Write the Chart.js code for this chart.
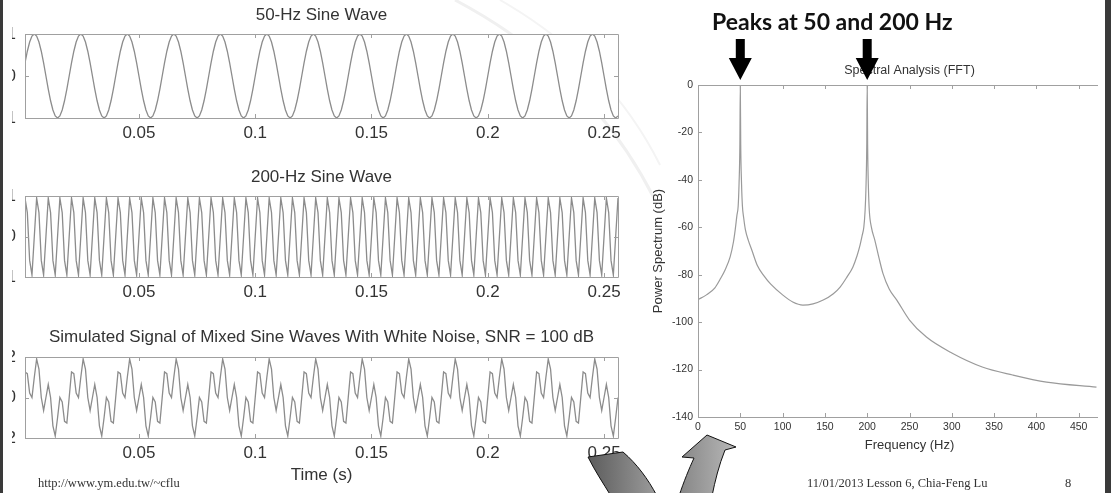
<!DOCTYPE html>
<html>
<head>
<meta charset="utf-8">
<script src="https://cdn.jsdelivr.net/npm/chart.js@4.4.1/dist/chart.umd.min.js"></script>
<style>
  html, body { margin: 0; padding: 0; background: #fff; }
  #slide { position: relative; width: 1111px; height: 493px; overflow: hidden; background: #fff; }
  #bg { position: absolute; left: 0; top: 0; }
  .edge { position: absolute; top: 0; height: 493px; background: #3a3a3a; }
  #waves { position: absolute; left: 12px; top: 0; width: 620px; height: 493px; overflow: hidden; }
  #waves canvas { position: absolute; left: -30px; }
  #fftBox { position: absolute; left: 640px; top: 0; width: 458px; height: 493px; overflow: hidden; }
  #fftBox canvas { position: absolute; left: 0; top: 0; }
  .foot { position: absolute; font-family: "Liberation Serif", "Times New Roman", serif; font-size: 12.5px; color: #333; white-space: nowrap; line-height: 14px; }
  #peaks { position: absolute; left: 712px; top: 9.6px; font-family: Lato, sans-serif; font-weight: bold; font-size: 23px; line-height: 23px; color: #111; white-space: nowrap; transform-origin: left top; }
  #deco { position: absolute; left: 0; top: 0; pointer-events: none; }
</style>
</head>
<body>
<div id="slide">
  <!-- faint template swooshes -->
  <svg id="bg" width="1111" height="493">
    <path d="M455,0 C540,45 610,110 655,200" fill="none" stroke="#f0f0f0" stroke-width="3"/>
    <path d="M500,0 C570,40 625,95 660,165" fill="none" stroke="#f4f4f4" stroke-width="2"/>
  </svg>
  <div id="waves">
    <canvas id="wave50" width="650" height="148" style="top:0px"></canvas>
    <canvas id="wave200" width="650" height="157" style="top:150px"></canvas>
    <canvas id="waveMix" width="650" height="179" style="top:310px"></canvas>
  </div>
  <div id="fftBox">
    <canvas id="fft" width="486" height="455"></canvas>
  </div>
  <div id="peaks">Peaks at 50 and 200 Hz</div>
  <div class="foot" style="left:38px; top:476px;">http://www.ym.edu.tw/~cflu</div>
  <div class="foot" style="left:807px; top:476px;">11/01/2013 Lesson 6, Chia-Feng Lu</div>
  <div class="foot" style="left:1065px; top:476px;">8</div>
  <svg id="deco" width="1111" height="493">
    <defs>
      <linearGradient id="gDark" x1="0" y1="0" x2="1" y2="0">
        <stop offset="0" stop-color="#5c5c5c"/>
        <stop offset="1" stop-color="#9c9c9c"/>
      </linearGradient>
      <linearGradient id="gLight" x1="0" y1="0" x2="1" y2="0">
        <stop offset="0" stop-color="#868686"/>
        <stop offset="1" stop-color="#b8b8b8"/>
      </linearGradient>
    </defs>
    <path d="M588,457 C595,471 603,483 611,496 L657,496 C648,479 637,464 623,452 Z" fill="url(#gDark)" stroke="#111" stroke-width="1"/>
    <path d="M679,496 C684,481 689,469 694,458 L682,457 L707,435 L736,447 L725,450 C719,465 715,481 712,496 Z" fill="url(#gLight)" stroke="#111" stroke-width="1"/>
  </svg>
  <div class="edge" style="left:0; width:3px;"></div>
  <div class="edge" style="left:1105px; width:6px;"></div>
</div>

<script>
// sampled at 1 kHz, 256 samples (t = 1 ms ... 256 ms)
const sampleRate = 1000;

const wave50 = [
  0.31, 0.59, 0.81, 0.95, 1, 0.95, 0.81, 0.59, 0.31, 0, -0.31, -0.59, -0.81, -0.95, -1, -0.95, -0.81, -0.59, -0.31, 0,
  0.31, 0.59, 0.81, 0.95, 1, 0.95, 0.81, 0.59, 0.31, 0, -0.31, -0.59, -0.81, -0.95, -1, -0.95, -0.81, -0.59, -0.31, 0,
  0.31, 0.59, 0.81, 0.95, 1, 0.95, 0.81, 0.59, 0.31, 0, -0.31, -0.59, -0.81, -0.95, -1, -0.95, -0.81, -0.59, -0.31, 0,
  0.31, 0.59, 0.81, 0.95, 1, 0.95, 0.81, 0.59, 0.31, 0, -0.31, -0.59, -0.81, -0.95, -1, -0.95, -0.81, -0.59, -0.31, 0,
  0.31, 0.59, 0.81, 0.95, 1, 0.95, 0.81, 0.59, 0.31, 0, -0.31, -0.59, -0.81, -0.95, -1, -0.95, -0.81, -0.59, -0.31, 0,
  0.31, 0.59, 0.81, 0.95, 1, 0.95, 0.81, 0.59, 0.31, 0, -0.31, -0.59, -0.81, -0.95, -1, -0.95, -0.81, -0.59, -0.31, 0,
  0.31, 0.59, 0.81, 0.95, 1, 0.95, 0.81, 0.59, 0.31, 0, -0.31, -0.59, -0.81, -0.95, -1, -0.95, -0.81, -0.59, -0.31, 0,
  0.31, 0.59, 0.81, 0.95, 1, 0.95, 0.81, 0.59, 0.31, 0, -0.31, -0.59, -0.81, -0.95, -1, -0.95, -0.81, -0.59, -0.31, 0,
  0.31, 0.59, 0.81, 0.95, 1, 0.95, 0.81, 0.59, 0.31, 0, -0.31, -0.59, -0.81, -0.95, -1, -0.95, -0.81, -0.59, -0.31, 0,
  0.31, 0.59, 0.81, 0.95, 1, 0.95, 0.81, 0.59, 0.31, 0, -0.31, -0.59, -0.81, -0.95, -1, -0.95, -0.81, -0.59, -0.31, 0,
  0.31, 0.59, 0.81, 0.95, 1, 0.95, 0.81, 0.59, 0.31, 0, -0.31, -0.59, -0.81, -0.95, -1, -0.95, -0.81, -0.59, -0.31, 0,
  0.31, 0.59, 0.81, 0.95, 1, 0.95, 0.81, 0.59, 0.31, 0, -0.31, -0.59, -0.81, -0.95, -1, -0.95, -0.81, -0.59, -0.31, 0,
  0.31, 0.59, 0.81, 0.95, 1, 0.95, 0.81, 0.59, 0.31, 0, -0.31, -0.59, -0.81, -0.95, -1, -0.95
];

const wave200 = [
  0.95, 0.59, -0.59, -0.95, 0, 0.95, 0.59, -0.59, -0.95, 0, 0.95, 0.59, -0.59, -0.95, 0, 0.95, 0.59, -0.59, -0.95, 0,
  0.95, 0.59, -0.59, -0.95, 0, 0.95, 0.59, -0.59, -0.95, 0, 0.95, 0.59, -0.59, -0.95, 0, 0.95, 0.59, -0.59, -0.95, 0,
  0.95, 0.59, -0.59, -0.95, 0, 0.95, 0.59, -0.59, -0.95, 0, 0.95, 0.59, -0.59, -0.95, 0, 0.95, 0.59, -0.59, -0.95, 0,
  0.95, 0.59, -0.59, -0.95, 0, 0.95, 0.59, -0.59, -0.95, 0, 0.95, 0.59, -0.59, -0.95, 0, 0.95, 0.59, -0.59, -0.95, 0,
  0.95, 0.59, -0.59, -0.95, 0, 0.95, 0.59, -0.59, -0.95, 0, 0.95, 0.59, -0.59, -0.95, 0, 0.95, 0.59, -0.59, -0.95, 0,
  0.95, 0.59, -0.59, -0.95, 0, 0.95, 0.59, -0.59, -0.95, 0, 0.95, 0.59, -0.59, -0.95, 0, 0.95, 0.59, -0.59, -0.95, 0,
  0.95, 0.59, -0.59, -0.95, 0, 0.95, 0.59, -0.59, -0.95, 0, 0.95, 0.59, -0.59, -0.95, 0, 0.95, 0.59, -0.59, -0.95, 0,
  0.95, 0.59, -0.59, -0.95, 0, 0.95, 0.59, -0.59, -0.95, 0, 0.95, 0.59, -0.59, -0.95, 0, 0.95, 0.59, -0.59, -0.95, 0,
  0.95, 0.59, -0.59, -0.95, 0, 0.95, 0.59, -0.59, -0.95, 0, 0.95, 0.59, -0.59, -0.95, 0, 0.95, 0.59, -0.59, -0.95, 0,
  0.95, 0.59, -0.59, -0.95, 0, 0.95, 0.59, -0.59, -0.95, 0, 0.95, 0.59, -0.59, -0.95, 0, 0.95, 0.59, -0.59, -0.95, 0,
  0.95, 0.59, -0.59, -0.95, 0, 0.95, 0.59, -0.59, -0.95, 0, 0.95, 0.59, -0.59, -0.95, 0, 0.95, 0.59, -0.59, -0.95, 0,
  0.95, 0.59, -0.59, -0.95, 0, 0.95, 0.59, -0.59, -0.95, 0, 0.95, 0.59, -0.59, -0.95, 0, 0.95, 0.59, -0.59, -0.95, 0,
  0.95, 0.59, -0.59, -0.95, 0, 0.95, 0.59, -0.59, -0.95, 0, 0.95, 0.59, -0.59, -0.95, 0, 0.95
];

// 50 Hz + 200 Hz, SNR 100 dB (noise is far below the line width)
const waveMix = [
  1.26, 1.18, 0.22, 0, 1, 1.9, 1.4, 0, -0.64, 0, 0.64, 0, -1.4, -1.9, -1, 0, -0.22, -1.18, -1.26, 0,
  1.26, 1.18, 0.22, 0, 1, 1.9, 1.4, 0, -0.64, 0, 0.64, 0, -1.4, -1.9, -1, 0, -0.22, -1.18, -1.26, 0,
  1.26, 1.18, 0.22, 0, 1, 1.9, 1.4, 0, -0.64, 0, 0.64, 0, -1.4, -1.9, -1, 0, -0.22, -1.18, -1.26, 0,
  1.26, 1.18, 0.22, 0, 1, 1.9, 1.4, 0, -0.64, 0, 0.64, 0, -1.4, -1.9, -1, 0, -0.22, -1.18, -1.26, 0,
  1.26, 1.18, 0.22, 0, 1, 1.9, 1.4, 0, -0.64, 0, 0.64, 0, -1.4, -1.9, -1, 0, -0.22, -1.18, -1.26, 0,
  1.26, 1.18, 0.22, 0, 1, 1.9, 1.4, 0, -0.64, 0, 0.64, 0, -1.4, -1.9, -1, 0, -0.22, -1.18, -1.26, 0,
  1.26, 1.18, 0.22, 0, 1, 1.9, 1.4, 0, -0.64, 0, 0.64, 0, -1.4, -1.9, -1, 0, -0.22, -1.18, -1.26, 0,
  1.26, 1.18, 0.22, 0, 1, 1.9, 1.4, 0, -0.64, 0, 0.64, 0, -1.4, -1.9, -1, 0, -0.22, -1.18, -1.26, 0,
  1.26, 1.18, 0.22, 0, 1, 1.9, 1.4, 0, -0.64, 0, 0.64, 0, -1.4, -1.9, -1, 0, -0.22, -1.18, -1.26, 0,
  1.26, 1.18, 0.22, 0, 1, 1.9, 1.4, 0, -0.64, 0, 0.64, 0, -1.4, -1.9, -1, 0, -0.22, -1.18, -1.26, 0,
  1.26, 1.18, 0.22, 0, 1, 1.9, 1.4, 0, -0.64, 0, 0.64, 0, -1.4, -1.9, -1, 0, -0.22, -1.18, -1.26, 0,
  1.26, 1.18, 0.22, 0, 1, 1.9, 1.4, 0, -0.64, 0, 0.64, 0, -1.4, -1.9, -1, 0, -0.22, -1.18, -1.26, 0,
  1.26, 1.18, 0.22, 0, 1, 1.9, 1.4, 0, -0.64, 0, 0.64, 0, -1.4, -1.9, -1, 0
];

const timeTicks = [0.05, 0.1, 0.15, 0.2, 0.25];

// power spectrum of the mixed signal
const freqHz = [
  0, 10, 20, 26, 32, 38, 42, 44, 46, 47.5, 48.5, 49.5, 50, 50.5, 51.5, 52.5, 54, 56, 59.5, 64,
  70, 78, 86, 100, 112, 124, 136, 148, 160, 168, 176, 183, 188, 191, 194, 196, 197.5, 198.5, 199.5, 200,
  200.5, 201.5, 202.5, 205, 209, 214, 218.5, 226, 235, 250, 270, 300, 336, 372, 412, 471
];
const powerDb = [
  -90.5, -88.5, -85.5, -82, -78, -72.5, -66, -61, -55, -51, -42, -25, 0, -25, -42, -51, -56, -61, -65.5, -70,
  -76, -80.5, -84, -88.5, -91.5, -92.8, -92.3, -90.7, -88, -85.2, -81, -76.8, -72, -68.3, -63.5, -60, -53, -44, -25, 0,
  -25, -44, -53, -60, -65.4, -73, -79.3, -86, -90.7, -99.1, -106.3, -113, -118.9, -122.3, -125.3, -127.4
];
const freqTicks = [0, 50, 100, 150, 200, 250, 300, 350, 400, 450];
const dbTicks = [-140, -120, -100, -80, -60, -40, -20, 0];
const peaksHz = [50, 200];

const sans = '"Liberation Sans", Arial, Helvetica, sans-serif';
const textColor = '#333';
const lineColor = '#8c8c8c';
const frameColor = '#a0a0a0';

const timeSec = wave50.map((_, i) => (i + 1) / sampleRate);

// matlab-like axes: white face, full box, short ticks pointing inwards
const axesBox = {
  id: 'axesBox',
  beforeDatasetsDraw(chart) {
    const { ctx, chartArea: a } = chart;
    ctx.save();
    ctx.fillStyle = '#fff';
    ctx.fillRect(a.left, a.top, a.right - a.left, a.bottom - a.top);
    ctx.restore();
  },
  afterDatasetsDraw(chart) {
    const { ctx, chartArea: a, scales: { x, y } } = chart;
    const len = 4;
    ctx.save();
    ctx.strokeStyle = frameColor;
    ctx.lineWidth = 1;
    ctx.beginPath();
    ctx.rect(Math.round(a.left) + 0.5, Math.round(a.top) + 0.5,
      Math.round(a.right - a.left), Math.round(a.bottom - a.top));
    x.ticks.forEach(t => {
      const px = Math.round(x.getPixelForValue(t.value)) + 0.5;
      ctx.moveTo(px, a.bottom); ctx.lineTo(px, a.bottom - len);
      ctx.moveTo(px, a.top); ctx.lineTo(px, a.top + len);
    });
    y.ticks.forEach(t => {
      const py = Math.round(y.getPixelForValue(t.value)) + 0.5;
      ctx.moveTo(a.left, py); ctx.lineTo(a.left + len, py);
      ctx.moveTo(a.right, py); ctx.lineTo(a.right - len, py);
    });
    ctx.stroke();
    ctx.restore();
  }
};

// black arrows above the two spectral peaks
const peakArrows = {
  id: 'peakArrows',
  afterDraw(chart) {
    const { ctx, chartArea: a, scales: { x } } = chart;
    ctx.save();
    ctx.fillStyle = '#000';
    peaksHz.forEach(f => {
      const px = x.getPixelForValue(f);
      const tip = a.top - 5, neck = a.top - 27, tail = a.top - 46;
      ctx.beginPath();
      ctx.moveTo(px - 4.5, tail);
      ctx.lineTo(px + 4.5, tail);
      ctx.lineTo(px + 4.5, neck);
      ctx.lineTo(px + 11.5, neck);
      ctx.lineTo(px, tip);
      ctx.lineTo(px - 11.5, neck);
      ctx.lineTo(px - 4.5, neck);
      ctx.closePath();
      ctx.fill();
    });
    ctx.restore();
  }
};

function waveChart(id, values, title, yLim, pad, xTitle) {
  const yTicks = [-yLim, 0, yLim];
  return new Chart(document.getElementById(id), {
    type: 'line',
    data: {
      datasets: [{
        data: values.map((v, i) => ({ x: timeSec[i], y: v })),
        borderColor: lineColor,
        borderWidth: 1.3,
        pointRadius: 0,
        tension: 0
      }]
    },
    options: {
      responsive: false,
      animation: false,
      layout: { padding: { left: 0, right: 14, top: 0, bottom: 0 } },
      plugins: {
        legend: { display: false },
        tooltip: { enabled: false },
        title: {
          display: true,
          text: title,
          fullSize: false,
          color: textColor,
          font: { family: sans, size: 17, weight: 'normal' },
          padding: { top: pad[0], bottom: pad[1] }
        }
      },
      scales: {
        x: {
          type: 'linear',
          min: 0.001,
          max: 0.256,
          afterBuildTicks: s => { s.ticks = timeTicks.map(v => ({ value: v })); },
          afterFit: s => { s.height = xTitle ? 51 : 30; },
          grid: { display: false, drawTicks: false },
          border: { display: false },
          ticks: { padding: 4.8, color: textColor, font: { family: sans, size: 17 }, callback: v => String(v), maxRotation: 0 },
          title: {
            display: !!xTitle,
            text: xTitle || '',
            color: textColor,
            font: { family: sans, size: 17 },
            padding: { top: 0, bottom: 3 }
          }
        },
        y: {
          min: -yLim,
          max: yLim,
          afterBuildTicks: s => { s.ticks = yTicks.map(v => ({ value: v })); },
          afterFit: s => { s.width = 43; },
          grid: { display: false, drawTicks: false },
          border: { display: false },
          ticks: { padding: 9, color: textColor, font: { family: sans, size: 17 }, callback: v => String(v) }
        }
      }
    },
    plugins: [axesBox]
  });
}

waveChart('wave50', wave50, '50-Hz Sine Wave', 1, [4.8, 8.8]);
waveChart('wave200', wave200, '200-Hz Sine Wave', 1, [16.8, 8.8]);
waveChart('waveMix', waveMix, 'Simulated Signal of Mixed Sine Waves With White Noise, SNR = 100 dB', 2, [16.8, 9.8], 'Time (s)');

new Chart(document.getElementById('fft'), {
  type: 'line',
  data: {
    datasets: [{
      data: freqHz.map((f, i) => ({ x: f, y: powerDb[i] })),
      borderColor: '#9a9a9a',
      borderWidth: 1.2,
      pointRadius: 0,
      cubicInterpolationMode: 'monotone'
    }]
  },
  options: {
    responsive: false,
    animation: false,
    layout: { padding: { left: 0, right: 5, top: 0, bottom: 0 } },
    plugins: {
      legend: { display: false },
      tooltip: { enabled: false },
      title: {
        display: true,
        text: 'Spectral Analysis (FFT)',
        fullSize: false,
        color: textColor,
        font: { family: sans, size: 12.5, weight: 'normal' },
        padding: { top: 63.2, bottom: 6.8 }
      }
    },
    scales: {
      x: {
        type: 'linear',
        min: 0,
        max: 500,
        afterBuildTicks: s => { s.ticks = freqTicks.map(v => ({ value: v })); },
        afterFit: s => { s.height = 38; },
        grid: { display: false, drawTicks: false },
        border: { display: false },
        ticks: { padding: 3.7, color: textColor, font: { family: sans, size: 10.5 }, callback: v => String(v), maxRotation: 0 },
        title: {
          display: true,
          text: 'Frequency (Hz)',
          color: textColor,
          font: { family: sans, size: 13 },
          padding: { top: 0, bottom: 2 }
        }
      },
      y: {
        min: -140,
        max: 0,
        afterBuildTicks: s => { s.ticks = dbTicks.map(v => ({ value: v })); },
        afterFit: s => { s.width = 58; },
        grid: { display: false, drawTicks: false },
        border: { display: false },
        ticks: { padding: 5, color: textColor, font: { family: sans, size: 10.5 }, callback: v => String(v) },
        title: {
          display: true,
          text: 'Power Spectrum (dB)',
          color: textColor,
          font: { family: sans, size: 13 },
          padding: { top: 10.2, bottom: 0 }
        }
      }
    }
  },
  plugins: [axesBox, peakArrows]
});

// squeeze the heading to the width it takes on the slide
document.fonts.ready.then(() => {
  const el = document.getElementById('peaks');
  el.style.transform = 'scaleX(' + (241 / el.offsetWidth) + ')';
});
</script>
</body>
</html>
